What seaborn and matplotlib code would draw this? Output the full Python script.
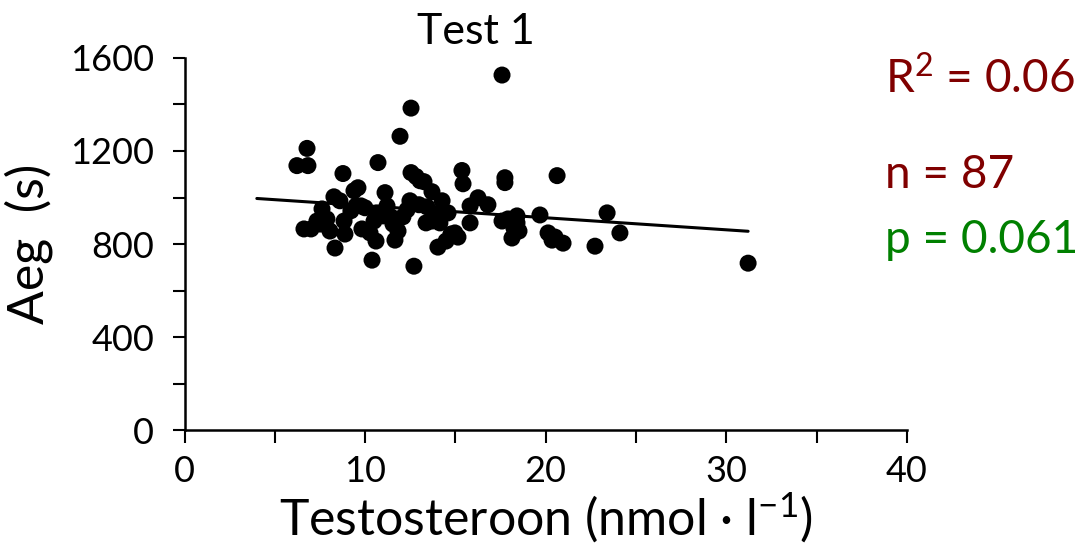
import numpy as np
import pandas as pd
import matplotlib
matplotlib.use("Agg")
import matplotlib.pyplot as plt
import seaborn as sns
from matplotlib.ticker import MultipleLocator

# ---- data ----
testosterone = [6.22, 6.78, 6.83, 6.61, 7.00, 7.33, 7.61, 7.88, 8.05, 8.27,
                8.33, 8.60, 8.83, 8.88, 8.77, 9.21, 9.38, 9.60, 9.77, 9.99,
                10.27, 10.38, 10.49, 10.71, 10.60, 10.65, 11.10, 11.21, 11.43, 11.54,
                11.65, 11.93, 12.09, 12.32, 12.54, 12.54, 12.70, 12.48, 12.82, 12.98,
                13.04, 13.26, 13.37, 13.42, 13.70, 13.98, 14.03, 14.14, 14.37, 14.48,
                14.59, 14.75, 14.97, 15.14, 15.36, 15.42, 15.81, 16.25, 16.80, 17.58,
                17.58, 17.74, 17.74, 17.91, 18.13, 18.24, 18.41, 18.52, 19.68, 20.13,
                20.35, 20.63, 20.52, 20.96, 22.73, 23.40, 24.11, 31.21, 7.50, 9.49,
                10.99, 11.82, 13.70, 15.81, 18.41, 9.82, 14.26]
aeg = [1137, 1211, 1137, 865, 865, 899, 951, 908, 856, 1003,
       783, 986, 899, 843, 1103, 943, 1029, 1042, 964, 956,
       848, 731, 899, 1150, 813, 934, 1021, 964, 917, 886,
       817, 1263, 917, 947, 1384, 1107, 705, 986, 1090, 969,
       1072, 1068, 891, 960, 1025, 930, 787, 891, 934, 813,
       934, 843, 848, 830, 1116, 1059, 964, 999, 969, 1526,
       899, 1085, 1064, 908, 826, 869, 891, 856, 925, 848,
       817, 1094, 830, 804, 791, 934, 848, 718, 886, 964,
       921, 856, 899, 891, 921, 865, 986]
x_ticks = [0, 10, 20, 30, 40]
y_ticks = [0, 400, 800, 1200, 1600]
trend_start = 4.0
title = "Test 1"
stats_r2 = r"R$^{\mathregular{2}}$ = 0.06"
stats_n = "n = 87"
stats_p = "p = 0.061"

df = pd.DataFrame({"x": testosterone, "y": aeg})

sns.set_theme(style="ticks")
plt.rcParams["font.family"] = ["Lato", "DejaVu Sans"]
plt.rcParams["mathtext.default"] = "regular"
for k in ["text.color", "axes.labelcolor", "xtick.color", "ytick.color",
          "xtick.labelcolor", "ytick.labelcolor", "axes.edgecolor"]:
    plt.rcParams[k] = "black"

fig = plt.figure(figsize=(10.86, 5.56), dpi=100)
ax = fig.add_axes([0.170, 0.226, 0.665, 0.670])

sns.scatterplot(data=df, x="x", y="y", ax=ax, color="black", s=150,
                edgecolor="none", zorder=3)

slope, intercept = np.polyfit(df["x"], df["y"], 1)
xl = np.array([trend_start, df["x"].max()])
ax.plot(xl, intercept + slope * xl, color="black", lw=2.2, zorder=2)

ax.set_xlim(0, 40)
ax.set_ylim(0, 1600)
ax.set_xticks(x_ticks)
ax.set_yticks(y_ticks)
ax.xaxis.set_minor_locator(MultipleLocator(5))
ax.yaxis.set_minor_locator(MultipleLocator(200))
for s in ["top", "right"]:
    ax.spines[s].set_visible(False)
for s in ["left", "bottom"]:
    ax.spines[s].set_linewidth(1.8)
    ax.spines[s].set_color("black")
ax.tick_params(which="both", direction="out", length=9, width=1.5, color="black")
ax.tick_params(axis="y", which="major", labelsize=26, pad=13, labelcolor="black")
ax.tick_params(axis="x", which="major", labelsize=26, pad=9, labelcolor="black")

ax.set_xlabel("Testosteroon (nmol · l$^{\\mathregular{-1}}$)", fontsize=36,
              labelpad=2, color="black")
ax.set_ylabel("Aeg  (s)", fontsize=36, labelpad=12, color="black")

fig.text(0.438, 0.921, title, fontsize=31, ha="center", va="baseline", color="black")
fig.text(0.815, 0.833, stats_r2, fontsize=33, color="#800000", va="baseline")
fig.text(0.815, 0.662, stats_n, fontsize=33, color="#800000", va="baseline")
fig.text(0.815, 0.545, stats_p, fontsize=33, color="#008000", va="baseline")

fig.savefig("out.png", dpi=100)
